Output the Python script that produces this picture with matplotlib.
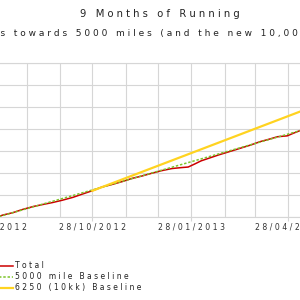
import matplotlib
matplotlib.use("Agg")
import matplotlib.pyplot as plt
import matplotlib.dates as mdates
import pandas as pd

# running totals (miles)
total_dates = ["2012-07-31", "2012-08-06", "2012-08-15", "2012-08-24", "2012-09-03",
               "2012-09-12", "2012-09-21", "2012-09-30", "2012-10-10", "2012-10-19",
               "2012-10-28", "2012-11-06", "2012-11-15", "2012-11-25", "2012-12-04",
               "2012-12-13", "2012-12-22", "2012-12-31", "2013-01-10", "2013-01-19",
               "2013-01-25", "2013-01-31", "2013-02-06", "2013-02-15", "2013-02-22",
               "2013-03-09", "2013-03-24", "2013-04-02", "2013-04-09", "2013-04-18",
               "2013-04-27", "2013-05-03", "2013-05-09", "2013-05-14"]
total_miles = [0, 26, 52, 88, 122,
               145, 167, 193, 226, 264,
               301, 343, 371, 405, 441,
               467, 498, 527, 552, 563,
               569, 603, 639, 676, 705,
               761, 818, 857, 880, 912,
               922, 953, 982, 1000]

base5000_dates = ["2012-07-31", "2013-07-31"]
base5000_miles = [0, 1270]
base6250_dates = ["2012-10-28", "2013-07-31"]
base6250_miles = [300, 1583]

tick_dates = ["2012-07-28", "2012-10-28", "2013-01-28", "2013-04-28"]
tick_labels = ["28/07/2012", "28/10/2012", "28/01/2013", "28/04/2013"]

title = "9 Months of Running"
subtitle = "Progress towards 5000 miles (and the new 10,000 km target)"
series_labels = ["Total", "5000 mile Baseline", "6250 (10kk) Baseline"]


def spaced(s):
    # the original chart renders text with wide letter spacing
    return " ".join(s)


plt.rcParams["font.family"] = ["DejaVu Sans"]
grid_col = "#d6d6d6"

fig = plt.figure(figsize=(3, 3), dpi=100)
ax = fig.add_axes([-6.7 / 300, (300 - 217.3) / 300, 337 / 300, 154.6 / 300])

ax.plot(pd.to_datetime(total_dates), total_miles, color="#cc0000", lw=1.1,
        label=spaced(series_labels[0]), zorder=3)
ax.plot(pd.to_datetime(base5000_dates), base5000_miles, color="#7dc42a", lw=1.1,
        dashes=(1.6, 1.2), label=spaced(series_labels[1]), zorder=4)
ax.plot(pd.to_datetime(base6250_dates), base6250_miles, color="#ffd320", lw=1.6,
        label=spaced(series_labels[2]), zorder=5)

ax.set_xlim(pd.Timestamp("2012-07-31"), pd.Timestamp("2013-06-06"))
ax.set_ylim(0, 1750)
ax.set_yticks(range(0, 1751, 250))
ax.tick_params(axis="y", length=0, labelleft=False)

ax.set_xticks(pd.to_datetime(tick_dates), [spaced(t) for t in tick_labels])
ax.xaxis.set_minor_locator(mdates.MonthLocator(bymonthday=28))
ax.tick_params(axis="x", which="major", length=3, width=0.8, color=grid_col,
               labelsize=5.6, pad=1.0, labelcolor="#333333")
ax.tick_params(axis="x", which="minor", length=0)

ax.grid(True, which="both", color=grid_col, lw=0.8)
ax.set_axisbelow(True)
for sp in ax.spines.values():
    sp.set_color(grid_col)
    sp.set_linewidth(0.8)

fig.text(160 / 300, 1 - 16.7 / 300, spaced(title), ha="center", va="baseline",
         fontsize=7.2, color="#222222")
fig.text(-54 / 300, 1 - 36 / 300, spaced(subtitle), ha="left", va="baseline",
         fontsize=6.45, color="#222222")

ax.legend(loc="upper left", bbox_to_anchor=(-7 / 300, 1 - 261.5 / 300),
          bbox_transform=fig.transFigure, frameon=False, borderpad=0,
          borderaxespad=0, handlelength=2.6, handletextpad=0.3,
          labelspacing=0.25, fontsize=5.5, labelcolor="#222222")

fig.savefig("out.png", dpi=100)
